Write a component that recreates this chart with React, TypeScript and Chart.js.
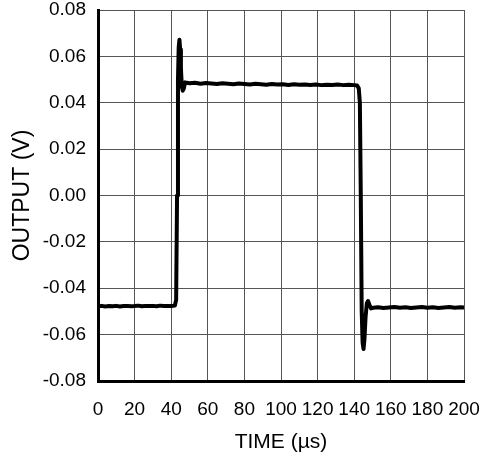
import React, { useEffect, useRef } from "react";
import { Chart, registerables } from "chart.js";

Chart.register(...registerables);

const xTicks = [0, 20, 40, 60, 80, 100, 120, 140, 160, 180, 200];
const yTicks = [-0.08, -0.06, -0.04, -0.02, 0, 0.02, 0.04, 0.06, 0.08];

const timeUs = [
  0, 2, 4, 6, 8, 10, 12, 14, 16, 18, 20, 22, 24, 26, 28, 30, 32, 34, 36, 38, 40, 42,
  42.7, 43.2, 43.7, 44.1, 44.5, 44.9, 45.3, 45.8, 46.3, 46.9, 47.6, 48.5,
  50, 53, 56, 59, 62, 65, 68, 71, 74, 77, 80, 83, 86, 89, 92, 95, 98, 101, 104, 107, 110,
  113, 116, 119, 122, 125, 128, 131, 134, 137, 140, 141.6, 142.5, 143.1,
  143.6, 144.1, 144.6, 145.1, 145.6, 146.2, 146.9, 147.6, 148.3, 149.2, 150.5,
  153, 156, 159, 162, 165, 168, 171, 174, 177, 180, 183, 186, 189, 192, 195, 198, 200,
];

const outputV = [
  -0.0478, -0.0476, -0.0479, -0.0477, -0.0478, -0.0476, -0.0479, -0.0477, -0.0476, -0.0478, -0.0477,
  -0.0475, -0.0478, -0.0476, -0.0477, -0.0476, -0.0478, -0.0475, -0.0477, -0.0476, -0.0477, -0.0475,
  -0.045, 0.0, 0.05, 0.064, 0.0672, 0.063, 0.055, 0.047, 0.0452, 0.0462, 0.0488, 0.0486,
  0.0484, 0.0486, 0.0482, 0.0485, 0.0483, 0.0481, 0.0484, 0.0482, 0.0480, 0.0483, 0.0481, 0.0479,
  0.0482, 0.0480, 0.0478, 0.0481, 0.0479, 0.0480, 0.0477, 0.0480, 0.0478, 0.0479, 0.0477,
  0.0479, 0.0476, 0.0478, 0.0477, 0.0479, 0.0476, 0.0478, 0.0476, 0.0474, 0.0462, 0.040,
  0.0, -0.05, -0.0635, -0.0662, -0.062, -0.0525, -0.0465, -0.0455, -0.0472, -0.0487, -0.0484,
  -0.0482, -0.0485, -0.0483, -0.0481, -0.0484, -0.0482, -0.0485, -0.0483, -0.0481, -0.0484,
  -0.0482, -0.0485, -0.0483, -0.0481, -0.0484, -0.0482, -0.0483,
];

const yTitle = "OUTPUT (V)";
const xTitle = "TIME (µs)";

export default function App() {
  const ref = useRef<HTMLCanvasElement | null>(null);

  useEffect(() => {
    if (!ref.current) return;
    const font = "Arial, 'Liberation Sans', sans-serif";
    const chart = new Chart(ref.current, {
      type: "line",
      data: {
        datasets: [
          {
            data: timeUs.map((t, i) => ({ x: t, y: outputV[i] })),
            borderColor: "#000",
            borderWidth: 4,
            pointRadius: 0,
            tension: 0,
            borderJoinStyle: "round",
            borderCapStyle: "round",
          },
        ],
      },
      options: {
        animation: false,
        responsive: true,
        maintainAspectRatio: false,
        layout: { padding: { left: 0, right: 23, top: 10, bottom: 0 } },
        plugins: { legend: { display: false }, tooltip: { enabled: false } },
        scales: {
          x: {
            type: "linear",
            min: 0,
            max: 200,
            afterBuildTicks: (s: any) => {
              s.ticks = xTicks.map((v) => ({ value: v }));
            },
            afterFit: (s: any) => {
              s.height = 77;
              s.paddingLeft = 0;
              s.paddingRight = 0;
            },
            ticks: {
              autoSkip: false,
              maxRotation: 0,
              minRotation: 0,
              padding: 17,
              color: "#000",
              font: { family: font, size: 19 },
              callback: (v: any) => String(v),
            },
            grid: { color: "#555", lineWidth: 1, drawTicks: false },
            border: { color: "#000", width: 3 },
            title: {
              display: true,
              text: xTitle,
              color: "#000",
              font: { family: font, size: 21 },
              padding: { top: 0, bottom: 3 },
            },
          },
          y: {
            type: "linear",
            min: -0.08,
            max: 0.08,
            afterBuildTicks: (s: any) => {
              s.ticks = yTicks.map((v) => ({ value: v }));
            },
            afterFit: (s: any) => {
              s.width = 98;
              s.paddingTop = 0;
              s.paddingBottom = 0;
            },
            ticks: {
              autoSkip: false,
              padding: 12,
              color: "#000",
              font: { family: font, size: 19 },
              callback: (v: any) => (Math.abs(v) < 1e-9 ? "0.00" : Number(v).toFixed(2)),
            },
            grid: { color: "#555", lineWidth: 1, drawTicks: false },
            border: { color: "#000", width: 3 },
            title: {
              display: true,
              text: yTitle,
              color: "#000",
              font: { family: font, size: 23 },
              padding: { top: 9, bottom: 0 },
            },
          },
        },
      },
    });
    return () => chart.destroy();
  }, []);

  return (
    <div style={{ position: "fixed", left: 0, top: 0, width: 487, height: 458, background: "#fff" }}>
      <canvas ref={ref} />
    </div>
  );
}
